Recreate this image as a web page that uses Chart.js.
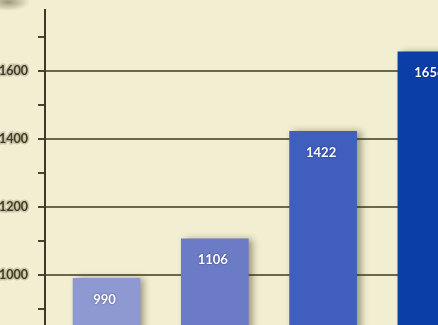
<!DOCTYPE html>
<html>
<head>
<meta charset="utf-8">
<script src="https://cdn.jsdelivr.net/npm/chart.js@4"></script>
<style>
  html, body { margin: 0; padding: 0; overflow: hidden; }
  body {
    width: 438px; height: 325px;
    background:
      radial-gradient(ellipse 22px 9px at 8px 2px, rgba(90,80,60,0.55), rgba(90,80,60,0) 100%),
      #f2eed1;
  }
  #wrap { position: relative; width: 438px; height: 325px; }
</style>
</head>
<body>
<div id="wrap"><canvas id="barChart"></canvas></div>
<script>
// yearly totals, one bar each
const values = [990, 1106, 1422, 1656]
const barColors = ['#8e99d2', '#6b7bc5', '#3f5ebd', '#0b3ea7']
const yMin = 853
const yMax = 1779

const points = values.map((v, i) => ({ x: i, y: v }))

// soft shadow on the right side of each bar
const barShadow = {
    id: 'barShadow',
    beforeDatasetsDraw(chart) {
        const c = chart.ctx
        c.save()
        c.shadowColor = 'rgba(45, 40, 20, 0.45)'
        c.shadowBlur = 7
        c.shadowOffsetX = 4
        c.shadowOffsetY = 0
    },
    afterDatasetsDraw(chart) {
        chart.ctx.restore()
    }
}

// value written inside the top of each bar
const valueLabels = {
    id: 'valueLabels',
    afterDatasetsDraw(chart) {
        const c = chart.ctx
        const meta = chart.getDatasetMeta(0)
        c.save()
        c.font = 'bold 13px Lato, "DejaVu Sans", sans-serif'
        c.fillStyle = '#ffffff'
        c.textAlign = 'center'
        c.textBaseline = 'middle'
        c.shadowColor = 'rgba(20, 20, 60, 0.6)'
        c.shadowBlur = 2
        meta.data.forEach((bar, i) => {
            c.fillText(String(values[i]), bar.x - 2, bar.y + 21)
        })
        c.restore()
    }
}

new Chart(document.getElementById('barChart'), {
    type: 'bar',
    data: {
        datasets: [{
            data: points,
            backgroundColor: barColors,
            borderWidth: 0,
            barThickness: 67
        }]
    },
    options: {
        responsive: true,
        maintainAspectRatio: false,
        animation: false,
        layout: { padding: { top: 10, left: 0, right: 0, bottom: 0 } },
        plugins: {
            legend: { display: false },
            tooltip: { enabled: false }
        },
        scales: {
            x: {
                type: 'linear',
                display: false,
                offset: false,
                min: -0.568,
                max: 3.061
            },
            y: {
                min: yMin,
                max: yMax,
                afterFit(scale) {
                    scale.width = 45
                    scale.paddingTop = 0
                    scale.paddingBottom = 0
                },
                border: { color: '#3d3828', width: 2 },
                grid: {
                    lineWidth: 2,
                    tickLength: 7,
                    color: (ctx) => ctx.tick && ctx.tick.value % 200 === 0 ? '#6c6749' : 'rgba(0,0,0,0)',
                    tickColor: '#4a4532'
                },
                ticks: {
                    stepSize: 100,
                    includeBounds: false,
                    padding: 10,
                    color: '#3f3a2a',
                    textStrokeColor: 'rgba(120, 110, 80, 0.3)',
                    textStrokeWidth: 3,
                    font: { family: 'Lato, "DejaVu Sans", sans-serif', weight: 'bold', size: 12.5 },
                    callback: (v) => v % 200 === 0 ? String(v) : ''
                }
            }
        }
    },
    plugins: [barShadow, valueLabels]
})
</script>
</body>
</html>
